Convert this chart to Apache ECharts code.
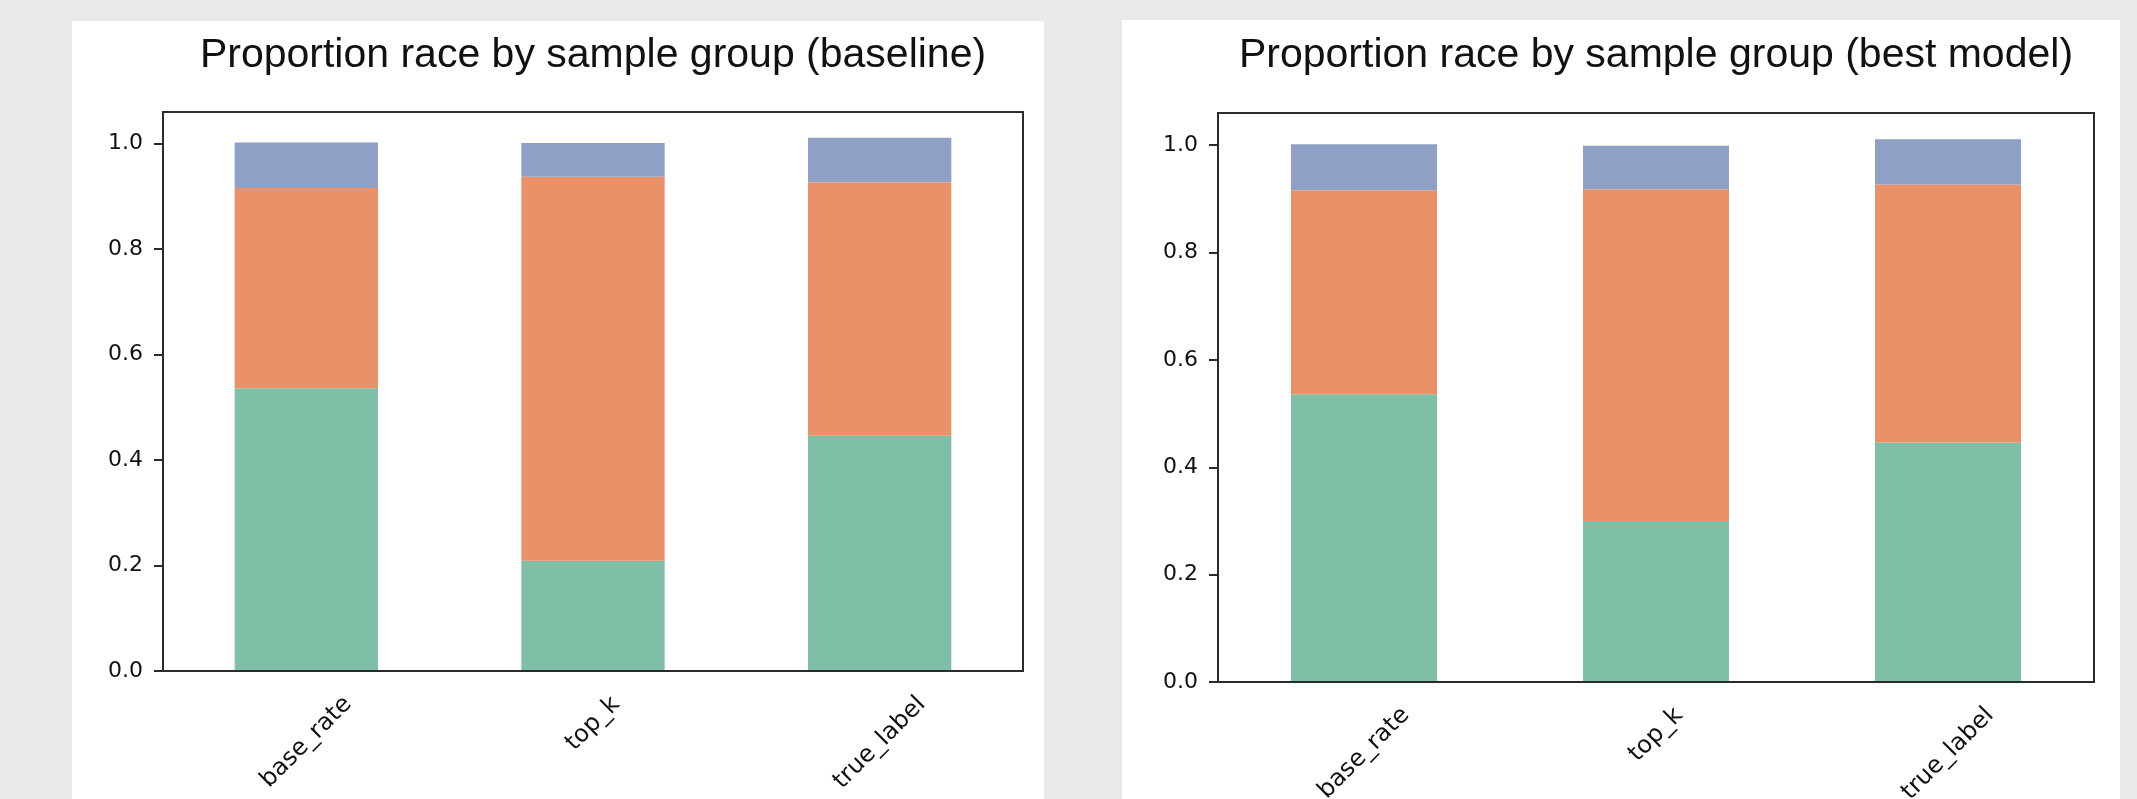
<!DOCTYPE html>
<html><head><meta charset="utf-8">
<script src="https://cdn.jsdelivr.net/npm/echarts@6/dist/echarts.min.js"></script>
<style>
html,body{margin:0;padding:0;background:#e9e9e9;width:2137px;height:799px;overflow:hidden}
.panel{position:absolute;background:#fff}
#chart{position:absolute;left:0;top:0;width:2137px;height:799px}
</style></head><body>
<div class="panel" style="left:72px;top:21px;width:972px;height:778px"></div>
<div class="panel" style="left:1122px;top:20px;width:998px;height:779px"></div>
<div id="chart"></div>
<script>
// ---- data ----
const categories = ['base_rate', 'top_k', 'true_label'];
const seriesNames = ['race 1', 'race 2', 'race 3'];
const baselineGreen  = [0.536, 0.209, 0.446];
const baselineOrange = [0.380, 0.728, 0.481];
const baselineBlue   = [0.086, 0.064, 0.084];
const bestGreen  = [0.536, 0.300, 0.446];
const bestOrange = [0.380, 0.618, 0.481];
const bestBlue   = [0.086, 0.081, 0.084];
const yTicks = [0, 0.2, 0.4, 0.6, 0.8, 1.0];
const yMax = 1.06;
const titles = ['Proportion race by sample group (baseline)', 'Proportion race by sample group (best model)'];

// ---- styles ----
const colors = ['#7fbfa6', '#eb9169', '#909fc6'];
const axisColor = '#2b2b2b';
const textColor = '#111';
const labelSize = 22;
const xLabelSize = 24;
const labelFamily = 'DejaVu Sans';

const ctx = document.createElement('canvas').getContext('2d');
ctx.font = xLabelSize + 'px "' + labelFamily + '"';
const rich = {};
categories.forEach((c, i) => {
  const w = ctx.measureText(c).width;
  const P = Math.round(0.5 * (w + xLabelSize));
  rich['c' + i] = {padding: [P, P, 0, 0], fontSize: xLabelSize, fontFamily: labelFamily, color: textColor};
});

const grids = [
  {left: 163, top: 112, width: 860, height: 559},
  {left: 1218, top: 113, width: 876, height: 569}
];
const titleX = [593, 1656];

function xAxisFor(gi) {
  return {
    gridIndex: gi, type: 'category', data: categories, z: 5,
    axisLine: {lineStyle: {color: axisColor, width: 2}},
    axisTick: {alignWithLabel: true, length: 9, lineStyle: {color: axisColor, width: 2}},
    axisLabel: {interval: 0, rotate: 45, align: 'center', verticalAlign: 'middle', margin: 21,
      formatter: (v, i) => '{c' + i + '|' + v + '}', rich: rich,
      fontSize: xLabelSize, fontFamily: labelFamily, color: textColor},
    splitLine: {show: false}
  };
}
function yAxisFor(gi) {
  return {
    gridIndex: gi, type: 'value', min: 0, max: yMax, interval: 0.2, z: 5,
    axisLine: {show: true, lineStyle: {color: axisColor, width: 2}},
    axisTick: {show: true, length: 9, lineStyle: {color: axisColor, width: 2}, customValues: yTicks},
    axisLabel: {customValues: yTicks, formatter: v => v.toFixed(1), margin: 20,
      fontSize: labelSize, fontFamily: labelFamily, color: textColor},
    splitLine: {show: false}
  };
}
function barSeries(gi, name, data, color) {
  return {
    type: 'bar', name: name, xAxisIndex: gi, yAxisIndex: gi, stack: 'g' + gi,
    data: data, barWidth: '50%', itemStyle: {color: color}, silent: true,
    emphasis: {disabled: true}, animation: false
  };
}

const chart = echarts.init(document.getElementById('chart'));
chart.setOption({
  animation: false,
  grid: grids.map(g => Object.assign({show: true, borderColor: axisColor, borderWidth: 2,
    backgroundColor: 'transparent', containLabel: false, outerBoundsMode: 'none'}, g)),
  xAxis: [xAxisFor(0), xAxisFor(1)],
  yAxis: [yAxisFor(0), yAxisFor(1)],
  series: [
    barSeries(0, seriesNames[0], baselineGreen, colors[0]),
    barSeries(0, seriesNames[1], baselineOrange, colors[1]),
    barSeries(0, seriesNames[2], baselineBlue, colors[2]),
    barSeries(1, seriesNames[0], bestGreen, colors[0]),
    barSeries(1, seriesNames[1], bestOrange, colors[1]),
    barSeries(1, seriesNames[2], bestBlue, colors[2])
  ],
  graphic: titles.map((t, i) => ({
    type: 'text', x: titleX[i], y: 56,
    style: {text: t, font: '41px "Liberation Sans"', fill: textColor, align: 'center', verticalAlign: 'middle'}
  }))
});
</script>
</body></html>
